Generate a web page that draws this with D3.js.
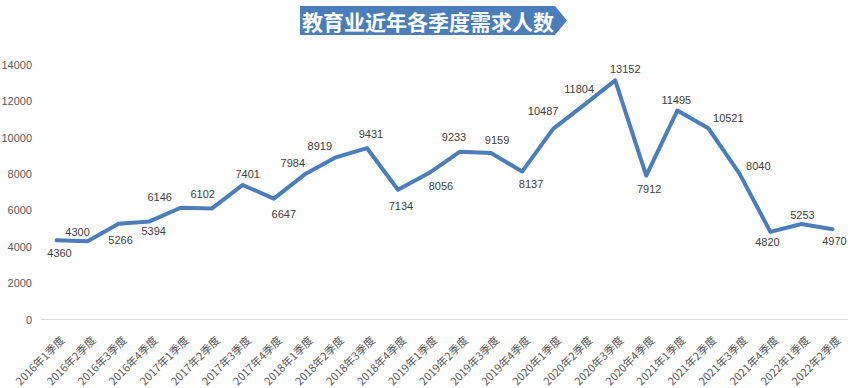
<!DOCTYPE html>
<html>
<head>
<meta charset="utf-8">
<script src="https://cdn.jsdelivr.net/npm/d3@7"></script>
<style>
  html, body { margin: 0; padding: 0; background: #fff; }
  svg { display: block; }
</style>
</head>
<body>
<svg id="chart" width="854" height="388"></svg>
<script>
const title = "教育业近年各季度需求人数";
const categories = [
  "2016年1季度","2016年2季度","2016年3季度","2016年4季度",
  "2017年1季度","2017年2季度","2017年3季度","2017年4季度",
  "2018年1季度","2018年2季度","2018年3季度","2018年4季度",
  "2019年1季度","2019年2季度","2019年3季度","2019年4季度",
  "2020年1季度","2020年2季度","2020年3季度","2020年4季度",
  "2021年1季度","2021年2季度","2021年3季度","2021年4季度",
  "2022年1季度","2022年2季度"
];
const values = [4360,4300,5266,5394,6146,6102,7401,6647,7984,8919,9431,7134,8056,9233,9159,8137,10487,11804,13152,7912,11495,10521,8040,4820,5253,4970];
const yTicks = [0,2000,4000,6000,8000,10000,12000,14000];
// data label placement relative to its point (dx, dy), layout only
const labelOffsets = [
  [3,13],[-10,-9],[2,16],[4,10],[-21,-11],[-9,-15],[5,-11],[10,15],
  [-12,-11],[-16,-11],[4,-14],[3,16],[12,13],[-6,-15],[6,-13],[9,12],
  [-10,-18],[-5,-16],[10,-11],[3,13],[-1,-11],[20,-10],[19,-7],[-3,10],
  [1,-9],[2,12]
];

const svg = d3.select("#chart");
const x = d3.scaleBand().domain(categories).range([41, 848]);
const y = d3.scaleLinear().domain([0, 14000]).range([319.5, 65]);
const cx = d => x(d) + x.bandwidth() / 2;

// Title banner
const bx0 = 300, bx1 = 555, bx2 = 567, by0 = 6, by1 = 35;
svg.append("path")
  .attr("d", `M${bx0},${by0}L${bx1},${by0}L${bx2},${(by0+by1)/2}L${bx1},${by1}L${bx0},${by1}Z`)
  .attr("fill", "#4a7ebb");
svg.append("text")
  .attr("x", 428).attr("y", 21)
  .attr("text-anchor", "middle")
  .attr("dominant-baseline", "central")
  .attr("fill", "#fff")
  .attr("font-family", "'Noto Sans CJK SC', sans-serif")
  .attr("font-weight", "bold")
  .attr("font-size", 21)
  .text(title);

// Y axis labels
svg.append("g").selectAll("text").data(yTicks).join("text")
  .attr("x", 32).attr("y", d => y(d))
  .attr("text-anchor", "end")
  .attr("dominant-baseline", "central")
  .attr("fill", "#595959")
  .attr("font-family", "'Liberation Sans', Arial, sans-serif")
  .attr("font-size", 11)
  .text(d => d);

// X axis baseline
svg.append("line")
  .attr("x1", x.range()[0]).attr("x2", x.range()[1])
  .attr("y1", y(0)).attr("y2", y(0))
  .attr("stroke", "#d9d9d9").attr("stroke-width", 1);

// X labels
svg.append("g").selectAll("text").data(categories).join("text")
  .attr("transform", d => `translate(${cx(d) + 9},${341}) rotate(-45)`)
  .attr("text-anchor", "end")
  .attr("fill", "#595959")
  .attr("font-family", "'Noto Sans CJK SC', sans-serif")
  .attr("font-size", 11)
  .text(d => d);

// Line
const line = d3.line().x((d, i) => cx(categories[i])).y(d => y(d));
svg.append("path")
  .datum(values)
  .attr("d", line)
  .attr("fill", "none")
  .attr("stroke", "#4a7ebb")
  .attr("stroke-width", 4)
  .attr("stroke-linejoin", "round")
  .attr("stroke-linecap", "round");

// Data labels
svg.append("g").selectAll("text").data(values).join("text")
  .attr("x", (d, i) => cx(categories[i]) + labelOffsets[i][0])
  .attr("y", (d, i) => y(d) + labelOffsets[i][1])
  .attr("text-anchor", "middle")
  .attr("dominant-baseline", "central")
  .attr("fill", "#404040")
  .attr("font-family", "'Liberation Sans', Arial, sans-serif")
  .attr("font-size", 11)
  .text(d => d);
</script>
</body>
</html>
